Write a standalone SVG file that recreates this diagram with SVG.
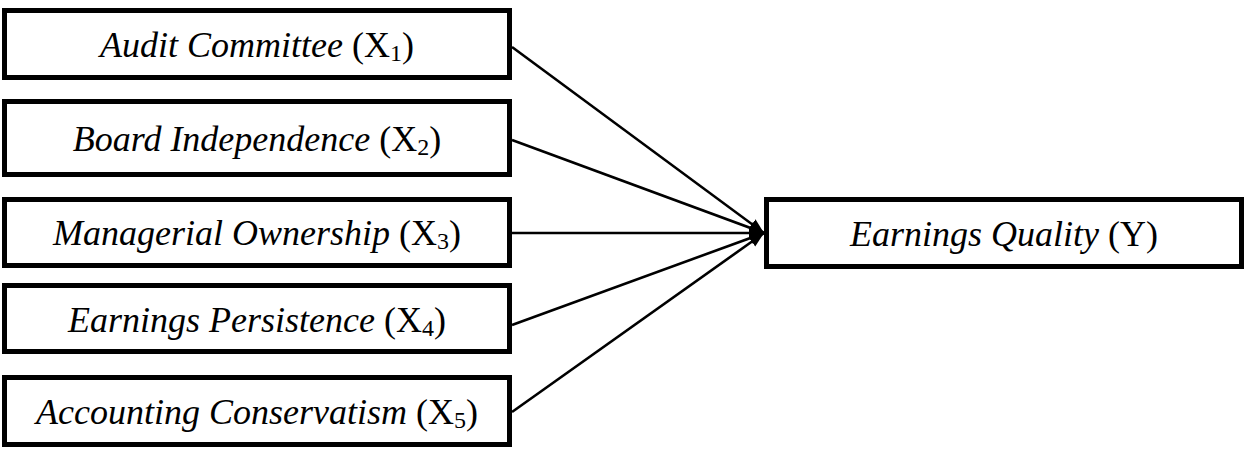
<svg xmlns="http://www.w3.org/2000/svg" width="1248" height="451" viewBox="0 0 1248 451">
<style>
.box{fill:#fff;stroke:#000;stroke-width:5;stroke-linejoin:miter}
.lbl{font-family:"Liberation Serif","Times New Roman",serif;font-size:36px;fill:#000;text-anchor:middle}
.it{font-style:italic}
.sub{font-size:24px}
.edge{stroke:#000;stroke-width:2.6;fill:none}
</style>
<defs>
<marker id="ah" markerUnits="userSpaceOnUse" markerWidth="18" markerHeight="14" refX="15" refY="6" orient="auto" viewBox="0 0 18 14">
<path d="M0,0 L15,6 L0,12 z" fill="#000"/>
</marker>
</defs>
<rect width="1248" height="451" fill="#fff"/>
<g id="connectors">
<line class="edge" x1="512" y1="47" x2="764" y2="233" marker-end="url(#ah)"/>
<line class="edge" x1="512" y1="140" x2="764" y2="233" marker-end="url(#ah)"/>
<line class="edge" x1="512" y1="233" x2="764" y2="233" marker-end="url(#ah)"/>
<line class="edge" x1="512" y1="325" x2="764" y2="233" marker-end="url(#ah)"/>
<line class="edge" x1="512" y1="412" x2="764" y2="233" marker-end="url(#ah)"/>
</g>
<g id="x1">
<rect class="box" x="4.5" y="10.5" width="505" height="67"/>
<text class="lbl" x="257" y="57"><tspan class="it">Audit Committee</tspan> (X<tspan class="sub" dy="4">1</tspan><tspan dy="-4">)</tspan></text>
</g>
<g id="x2">
<rect class="box" x="4.5" y="101.5" width="505" height="73"/>
<text class="lbl" x="257" y="151"><tspan class="it">Board Independence</tspan> (X<tspan class="sub" dy="4">2</tspan><tspan dy="-4">)</tspan></text>
</g>
<g id="x3">
<rect class="box" x="4.5" y="199.5" width="505" height="66"/>
<text class="lbl" x="257" y="245"><tspan class="it">Managerial Ownership</tspan> (X<tspan class="sub" dy="4">3</tspan><tspan dy="-4">)</tspan></text>
</g>
<g id="x4">
<rect class="box" x="4.5" y="285.5" width="505" height="66"/>
<text class="lbl" x="257" y="332"><tspan class="it">Earnings Persistence</tspan> (X<tspan class="sub" dy="4">4</tspan><tspan dy="-4">)</tspan></text>
</g>
<g id="x5">
<rect class="box" x="4.5" y="377.5" width="505" height="67"/>
<text class="lbl" x="257" y="424"><tspan class="it">Accounting Conservatism</tspan> (X<tspan class="sub" dy="4">5</tspan><tspan dy="-4">)</tspan></text>
</g>
<g id="y">
<rect class="box" x="766.5" y="199.5" width="475" height="67"/>
<text class="lbl" x="1004" y="246"><tspan class="it">Earnings Quality</tspan> (Y)</text>
</g>
</svg>
